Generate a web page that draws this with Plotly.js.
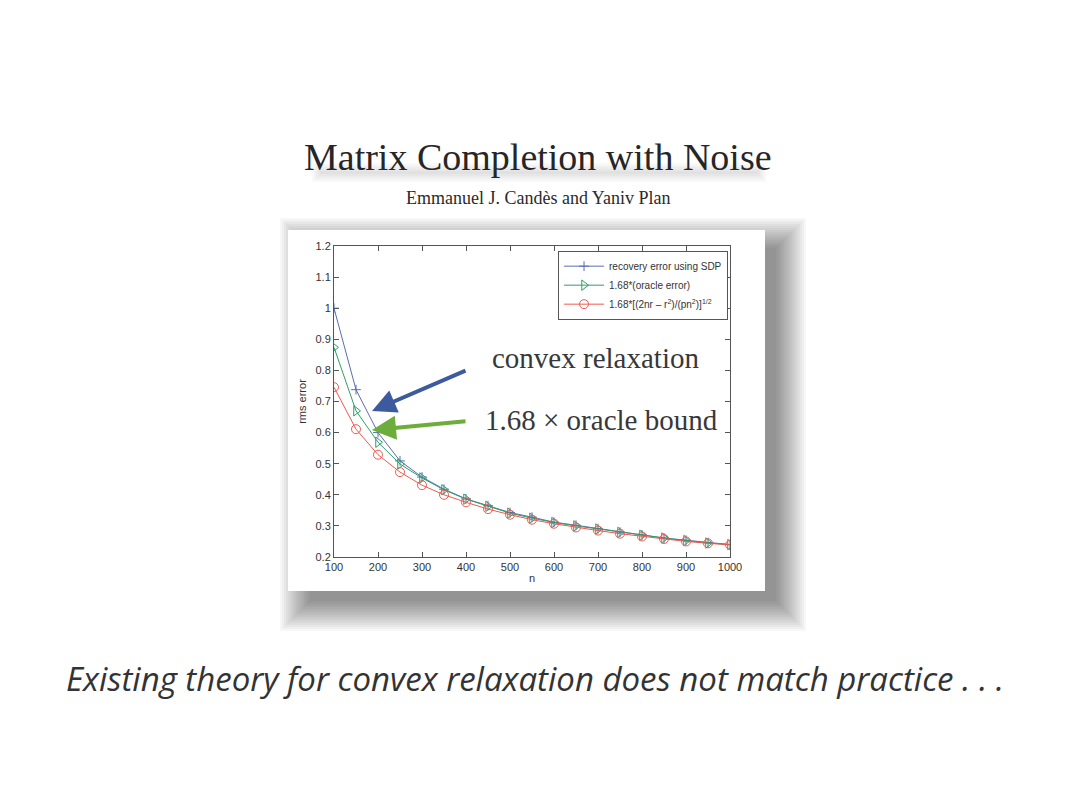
<!DOCTYPE html>
<html>
<head>
<meta charset="utf-8">
<script src="https://cdn.plot.ly/plotly-3.0.1.min.js"></script>
<style>
  html, body { margin: 0; padding: 0; background: #fff; }
  #chart { width: 1080px; height: 810px; }
</style>
</head>
<body>
<div id="chart"></div>
<script>
// problem sizes n
const nVals = [100, 150, 200, 250, 300, 350, 400, 450, 500, 550, 600, 650, 700, 750, 800, 850, 900, 950, 1000];
// recovery error using SDP
const sdpErr = [1.0, 0.738, 0.60, 0.509, 0.457, 0.418, 0.387, 0.365, 0.343, 0.328, 0.312, 0.302, 0.291, 0.280, 0.271, 0.261, 0.254, 0.246, 0.240];
// 1.68 * oracle error
const oracleErr = [0.874, 0.670, 0.569, 0.499, 0.454, 0.416, 0.386, 0.363, 0.341, 0.325, 0.311, 0.300, 0.290, 0.279, 0.270, 0.261, 0.253, 0.245, 0.240];
// 1.68 * [(2nr - r^2)/(pn^2)]^(1/2)
const boundErr = [0.746, 0.611, 0.529, 0.473, 0.431, 0.400, 0.376, 0.354, 0.336, 0.320, 0.307, 0.295, 0.285, 0.275, 0.266, 0.258, 0.250, 0.244, 0.239];

const seriesNames = [
    'recovery error using SDP',
    '1.68*(oracle error)',
    '1.68*[(2nr \u2013 r<sup>2</sup>)/(pn<sup>2</sup>)]<sup>1/2</sup>'
];

// plot area in pixels (page is 1080x810)
const PL = 334, PR = 730, PT = 246, PB = 557;
const px = x => (x - PL) / (PR - PL);
const py = y => (PB - y) / (PB - PT);

const traces = [
    {
        x: nVals, y: sdpErr, name: seriesNames[0],
        mode: 'lines+markers',
        line: { color: '#5a6cb4', width: 1 },
        marker: { symbol: 'cross-thin', size: 7, line: { color: '#5a6cb4', width: 1 } }
    },
    {
        x: nVals, y: oracleErr, name: seriesNames[1],
        mode: 'lines+markers',
        line: { color: '#2e9e6a', width: 1 },
        marker: { symbol: 'triangle-right-open', size: 9, color: '#2e9e6a', line: { width: 1 } }
    },
    {
        x: nVals, y: boundErr, name: seriesNames[2],
        mode: 'lines+markers',
        line: { color: '#ec5a50', width: 1 },
        marker: { symbol: 'circle-open', size: 9, color: '#ec5a50', line: { width: 1 } }
    }
];

const shapes = [];
const softRect = (x0, x1, y0, y1, from, to, alpha) => {
    for (let e = from; e >= to; e -= 2) {
        shapes.push({
            type: 'rect', xref: 'paper', yref: 'paper', layer: 'below',
            x0: px(x0 - e), x1: px(x1 + e), y0: py(y1 + e), y1: py(y0 - e),
            line: { width: 0 }, fillcolor: 'rgba(0,0,0,' + alpha + ')'
        });
    }
};
// smudged shadow under the title
softRect(318, 760, 169, 176, 6, -2, 0.022);
// blurred drop shadow behind the figure box
softRect(300, 786, 238, 611, 20, -10, 0.032);
shapes.push({
    type: 'rect', xref: 'paper', yref: 'paper', layer: 'below',
    x0: px(288), x1: px(765), y0: py(591), y1: py(230),
    line: { width: 0 }, fillcolor: '#ffffff'
});

const txt = (x, y, text, font) => ({
    xref: 'paper', yref: 'paper', x: px(x), y: py(y),
    xanchor: 'center', yanchor: 'middle', text: text, showarrow: false, font: font
});

const annotations = [
    txt(538, 157, 'Matrix Completion with Noise',
        { family: 'Liberation Serif', size: 38, color: '#262626' }),
    txt(538, 198, 'Emmanuel J. Cand\u00e8s and Yaniv Plan',
        { family: 'Liberation Serif', size: 18, color: '#2a2a2a' }),
    txt(595, 358, 'convex relaxation',
        { family: 'Liberation Serif', size: 29, color: '#383838' }),
    txt(601, 420, '1.68 \u00d7 oracle bound',
        { family: 'Liberation Serif', size: 29, color: '#383838' }),
    {
        xref: 'paper', yref: 'paper', x: px(372), y: py(411),
        ax: px(467), ay: py(370), axref: 'paper', ayref: 'paper',
        text: '', showarrow: true, arrowhead: 2, arrowsize: 1.2, arrowwidth: 4,
        arrowcolor: '#3d5a9e'
    },
    {
        xref: 'paper', yref: 'paper', x: px(372), y: py(430),
        ax: px(467), ay: py(421), axref: 'paper', ayref: 'paper',
        text: '', showarrow: true, arrowhead: 2, arrowsize: 1.2, arrowwidth: 4,
        arrowcolor: '#6cad3c'
    },
    txt(535, 678, '<i>Existing theory for convex relaxation does not match practice . . .</i>',
        { family: 'Open Sans', size: 33, color: '#333' })
];

const axisCommon = {
    showgrid: false, zeroline: false,
    showline: true, linecolor: '#555', linewidth: 1, mirror: 'ticks',
    ticks: 'inside', ticklen: 5, tickcolor: '#555',
    tickfont: { family: 'Liberation Sans', size: 11, color: '#333' }
};

const layout = {
    width: 1080, height: 810,
    margin: { l: PL, r: 1080 - PR, t: PT, b: 810 - PB, pad: 0 },
    paper_bgcolor: '#ffffff',
    plot_bgcolor: 'rgba(0,0,0,0)',
    showlegend: true,
    legend: {
        x: 0.995, y: 0.985, xanchor: 'right', yanchor: 'top',
        bgcolor: '#fff', bordercolor: '#555', borderwidth: 1,
        font: { family: 'Liberation Sans', size: 10, color: '#333' },
        tracegroupgap: 0, itemwidth: 40
    },
    xaxis: {
        ...axisCommon, range: [100, 1000], tickvals: [100, 200, 300, 400, 500, 600, 700, 800, 900, 1000],
        title: { text: 'n', standoff: 2, font: { family: 'Liberation Sans', size: 11, color: '#333' } }
    },
    yaxis: {
        ...axisCommon, range: [0.2, 1.2],
        tickvals: [0.2, 0.3, 0.4, 0.5, 0.6, 0.7, 0.8, 0.9, 1, 1.1, 1.2],
        ticktext: ['0.2', '0.3', '0.4', '0.5', '0.6', '0.7', '0.8', '0.9', '1', '1.1', '1.2'],
        title: { text: 'rms error', standoff: 6, font: { family: 'Liberation Sans', size: 11, color: '#333' } }
    },
    shapes: shapes,
    annotations: annotations
};

Plotly.newPlot('chart', traces, layout, { staticPlot: true, displayModeBar: false });
</script>
</body>
</html>
